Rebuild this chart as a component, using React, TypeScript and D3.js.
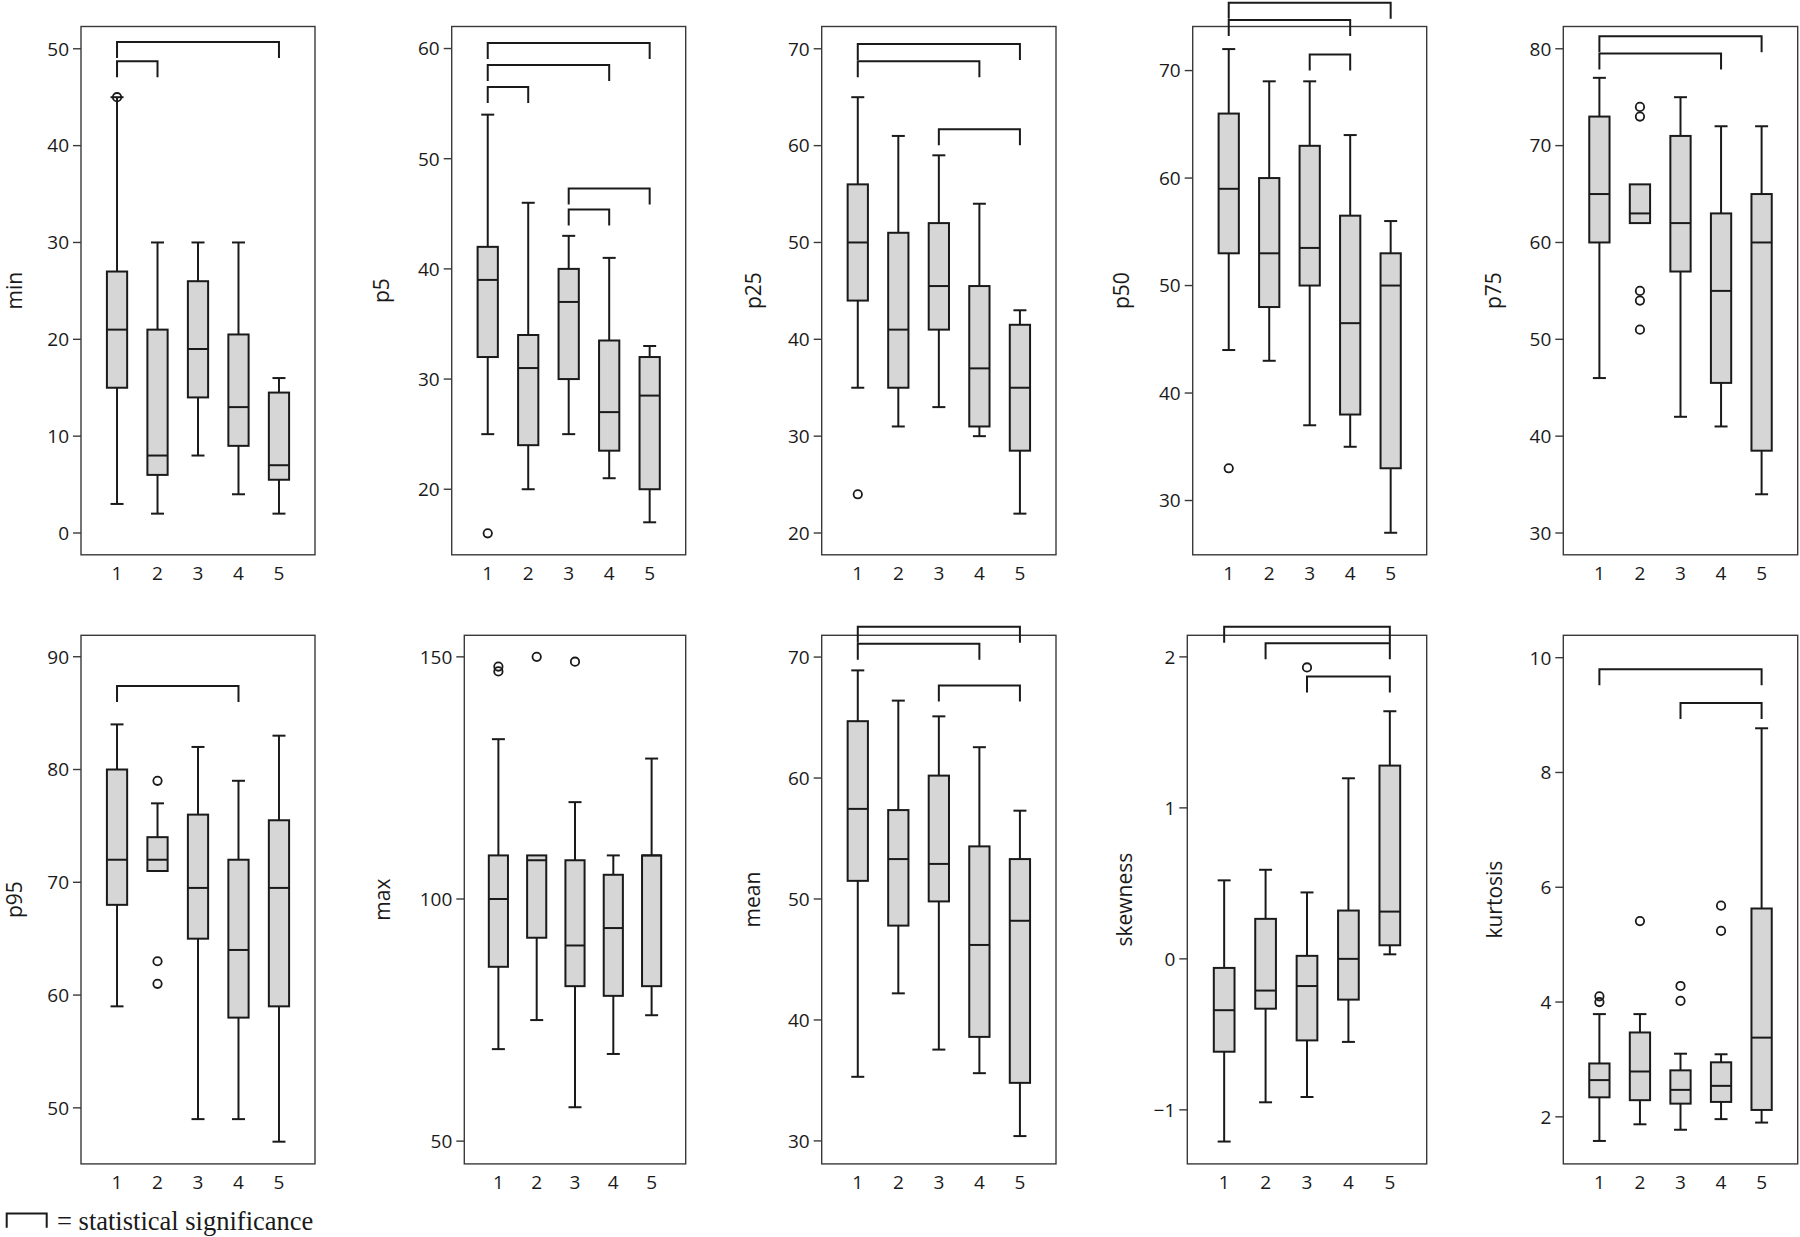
import React from "react";
import * as d3 from "d3";

const groups = ["1", "2", "3", "4", "5"];

// every box: [lower whisker, q1, median, q3, upper whisker]
const minBoxes = [[3, 15, 21, 27, 45], [2, 6, 8, 21, 30], [8, 14, 19, 26, 30], [4, 9, 13, 20.5, 30], [2, 5.5, 7, 14.5, 16]];
const minOutliers = [[45], [], [], [], []];
const minBrackets = [[1, 2, 48.7], [1, 5, 50.7]];

const p5Boxes = [[25, 32, 39, 42, 54], [20, 24, 31, 34, 46], [25, 30, 37, 40, 43], [21, 23.5, 27, 33.5, 41], [17, 20, 28.5, 32, 33]];
const p5Outliers = [[16], [], [], [], []];
const p5Brackets = [[1, 2, 56.5], [1, 4, 58.5], [1, 5, 60.5], [3, 4, 45.4], [3, 5, 47.3]];

const p25Boxes = [[35, 44, 50, 56, 65], [31, 35, 41, 51, 61], [33, 41, 45.5, 52, 59], [30, 31, 37, 45.5, 54], [22, 28.5, 35, 41.5, 43]];
const p25Outliers = [[24], [], [], [], []];
const p25Brackets = [[1, 4, 68.7], [1, 5, 70.5], [3, 5, 61.7]];

const p50Boxes = [[44, 53, 59, 66, 72], [43, 48, 53, 60, 69], [37, 50, 53.5, 63, 69], [35, 38, 46.5, 56.5, 64], [27, 33, 50, 53, 56]];
const p50Outliers = [[33], [], [], [], []];
const p50Brackets = [[1, 4, 74.7], [1, 5, 76.3], [3, 4, 71.5]];

const p75Boxes = [[46, 60, 65, 73, 77], [62, 62, 63, 66, 66], [42, 57, 62, 71, 75], [41, 45.5, 55, 63, 72], [34, 38.5, 60, 65, 72]];
const p75Outliers = [[], [74, 73, 55, 54, 51], [], [], []];
const p75Brackets = [[1, 4, 79.5], [1, 5, 81.3]];

const p95Boxes = [[59, 68, 72, 80, 84], [71, 71, 72, 74, 77], [49, 65, 69.5, 76, 82], [49, 58, 64, 72, 79], [47, 59, 69.5, 75.5, 83]];
const p95Outliers = [[], [79, 63, 61], [], [], []];
const p95Brackets = [[1, 4, 87.4]];

const maxBoxes = [[69, 86, 100, 109, 133], [75, 92, 108, 109, 109], [57, 82, 90.4, 108, 120], [68, 80, 94, 105, 109], [76, 82, 109, 109, 129]];
const maxOutliers = [[148, 147], [150], [149], [], []];
const maxBrackets: number[][] = [];

const meanBoxes = [[35.3, 51.5, 57.45, 64.7, 68.9], [42.2, 47.8, 53.3, 57.35, 66.4], [37.55, 49.8, 52.9, 60.2, 65.1], [35.6, 38.6, 46.2, 54.35, 62.55], [30.4, 34.8, 48.2, 53.3, 57.3]];
const meanOutliers = [[], [], [], [], []];
const meanBrackets = [[1, 4, 71.1], [1, 5, 72.5], [3, 5, 67.65]];

const skewBoxes = [[-1.21, -0.615, -0.34, -0.06, 0.52], [-0.95, -0.33, -0.21, 0.265, 0.59], [-0.915, -0.54, -0.18, 0.02, 0.44], [-0.55, -0.27, 0, 0.32, 1.196], [0.03, 0.09, 0.313, 1.28, 1.64]];
const skewOutliers = [[], [], [1.93], [], []];
const skewBrackets = [[1, 5, 2.2], [2, 5, 2.09], [3, 5, 1.87]];

const kurtBoxes = [[1.58, 2.34, 2.64, 2.93, 3.79], [1.87, 2.29, 2.79, 3.47, 3.79], [1.775, 2.23, 2.47, 2.81, 3.1], [1.96, 2.26, 2.54, 2.95, 3.09], [1.9, 2.12, 3.38, 5.63, 8.77]];
const kurtOutliers = [[4.1, 4.0], [5.41], [4.28, 4.02], [5.68, 5.24], []];
const kurtBrackets = [[1, 5, 9.8], [3, 5, 9.21]];

const panels = [
  { title: "min", boxes: minBoxes, outliers: minOutliers, brackets: minBrackets, domain: [-2.25, 52.3], ticks: [0, 10, 20, 30, 40, 50] },
  { title: "p5", boxes: p5Boxes, outliers: p5Outliers, brackets: p5Brackets, domain: [14.05, 62.0], ticks: [20, 30, 40, 50, 60] },
  { title: "p25", boxes: p25Boxes, outliers: p25Outliers, brackets: p25Brackets, domain: [17.75, 72.3], ticks: [20, 30, 40, 50, 60, 70] },
  { title: "p50", boxes: p50Boxes, outliers: p50Outliers, brackets: p50Brackets, domain: [24.95, 74.1], ticks: [30, 40, 50, 60, 70] },
  { title: "p75", boxes: p75Boxes, outliers: p75Outliers, brackets: p75Brackets, domain: [27.75, 82.3], ticks: [30, 40, 50, 60, 70, 80] },
  { title: "p95", boxes: p95Boxes, outliers: p95Outliers, brackets: p95Brackets, domain: [45.03, 91.9], ticks: [50, 60, 70, 80, 90] },
  { title: "max", boxes: maxBoxes, outliers: maxOutliers, brackets: maxBrackets, domain: [45.3, 154.45], ticks: [50, 100, 150] },
  { title: "mean", boxes: meanBoxes, outliers: meanOutliers, brackets: meanBrackets, domain: [28.1, 71.8], ticks: [30, 40, 50, 60, 70] },
  { title: "skewness", boxes: skewBoxes, outliers: skewOutliers, brackets: skewBrackets, domain: [-1.358, 2.143], ticks: [-1, 0, 1, 2] },
  { title: "kurtosis", boxes: kurtBoxes, outliers: kurtOutliers, brackets: kurtBrackets, domain: [1.18, 10.39], ticks: [2, 4, 6, 8, 10] },
];

// frame of each panel in pixels
const rows = [{ top: 26.5, bottom: 554.8 }, { top: 635.3, bottom: 1163.9 }];
const frames = [
  { left: 81, right: 315, row: 0, titleGap: 59.5 },
  { left: 451.7, right: 685.7, row: 0, titleGap: 62.7 },
  { left: 821.7, right: 1056, row: 0, titleGap: 61 },
  { left: 1192.7, right: 1426.7, row: 0, titleGap: 64 },
  { left: 1563.3, right: 1797.7, row: 0, titleGap: 62.6 },
  { left: 81, right: 315, row: 1, titleGap: 59.5 },
  { left: 464.3, right: 685.7, row: 1, titleGap: 74.3 },
  { left: 821.7, right: 1056, row: 1, titleGap: 61.7 },
  { left: 1187.3, right: 1426.7, row: 1, titleGap: 55.6 },
  { left: 1563.3, right: 1797.7, row: 1, titleGap: 61.6 },
];

const ink = "#1a1a1a";
const sans = "'Open Sans', 'Noto Sans', sans-serif";

function Panel({ spec, frame }: any) {
  const { top, bottom } = rows[frame.row];
  const x = d3.scalePoint().domain(groups).range([frame.left, frame.right]).padding(0.89);
  const y = d3.scaleLinear().domain(spec.domain).range([bottom, top]);
  const bw = x.step() * 0.5;
  const cap = 13;
  const leg = 16;

  return (
    <g>
      <rect x={frame.left} y={top} width={frame.right - frame.left} height={bottom - top}
        fill="none" stroke="#3a3a3a" strokeWidth={1.4} />
      {spec.boxes.map((b: number[], i: number) => {
        const cx = x(groups[i]) as number;
        const [lo, q1, med, q3, hi] = b;
        return (
          <g key={i} stroke={ink} strokeWidth={2}>
            {lo < q1 && <line x1={cx} x2={cx} y1={y(lo)} y2={y(q1)} />}
            {lo < q1 && <line x1={cx - cap / 2} x2={cx + cap / 2} y1={y(lo)} y2={y(lo)} />}
            {hi > q3 && <line x1={cx} x2={cx} y1={y(q3)} y2={y(hi)} />}
            {hi > q3 && <line x1={cx - cap / 2} x2={cx + cap / 2} y1={y(hi)} y2={y(hi)} />}
            <rect x={cx - bw / 2} y={y(q3)} width={bw} height={y(q1) - y(q3)} fill="#d6d6d6" />
            <line x1={cx - bw / 2} x2={cx + bw / 2} y1={y(med)} y2={y(med)} />
          </g>
        );
      })}
      {spec.outliers.map((list: number[], i: number) =>
        list.map((v, j) => (
          <circle key={i + "-" + j} cx={x(groups[i]) as number} cy={y(v)} r={4.2}
            fill="none" stroke={ink} strokeWidth={1.8} />
        ))
      )}
      {spec.brackets.map((br: number[], i: number) => {
        const x1 = x(groups[br[0] - 1]) as number;
        const x2 = x(groups[br[1] - 1]) as number;
        const yy = y(br[2]);
        return (
          <path key={"b" + i} d={`M${x1},${yy + leg}V${yy}H${x2}V${yy + leg}`}
            fill="none" stroke={ink} strokeWidth={2} />
        );
      })}
      {spec.ticks.map((t: number) => (
        <g key={"t" + t} transform={`translate(${frame.left},${y(t)})`}>
          <line x1={-8} x2={0} stroke="#3a3a3a" strokeWidth={1.4} />
          <text x={-12} dy="0.36em" textAnchor="end" fontFamily={sans} fontSize={19} fill={ink}>
            {String(t).replace("-", "\u2212")}
          </text>
        </g>
      ))}
      {groups.map((g) => (
        <text key={"c" + g} x={x(g) as number} y={bottom + 25} textAnchor="middle"
          fontFamily={sans} fontSize={19} fill={ink}>
          {g}
        </text>
      ))}
      <text transform={`translate(${frame.left - frame.titleGap},${(top + bottom) / 2}) rotate(-90)`}
        textAnchor="middle" fontFamily={sans} fontSize={21} fill={ink}>
        {spec.title}
      </text>
    </g>
  );
}

export default function App() {
  return (
    <div style={{ position: "absolute", left: 0, top: 0 }}>
      <svg width={1800} height={1237} style={{ display: "block", background: "#fff" }}>
        {panels.map((p, i) => (
          <Panel key={p.title} spec={p} frame={frames[i]} />
        ))}
        <path d="M6.7,1227.7V1213.4H46.7V1227.7" fill="none" stroke={ink} strokeWidth={2} />
        <text x={57} y={1229.7} fontFamily="'Liberation Serif', 'Times New Roman', serif" fontSize={26.5} fill={ink}>
          = statistical significance
        </text>
      </svg>
    </div>
  );
}
